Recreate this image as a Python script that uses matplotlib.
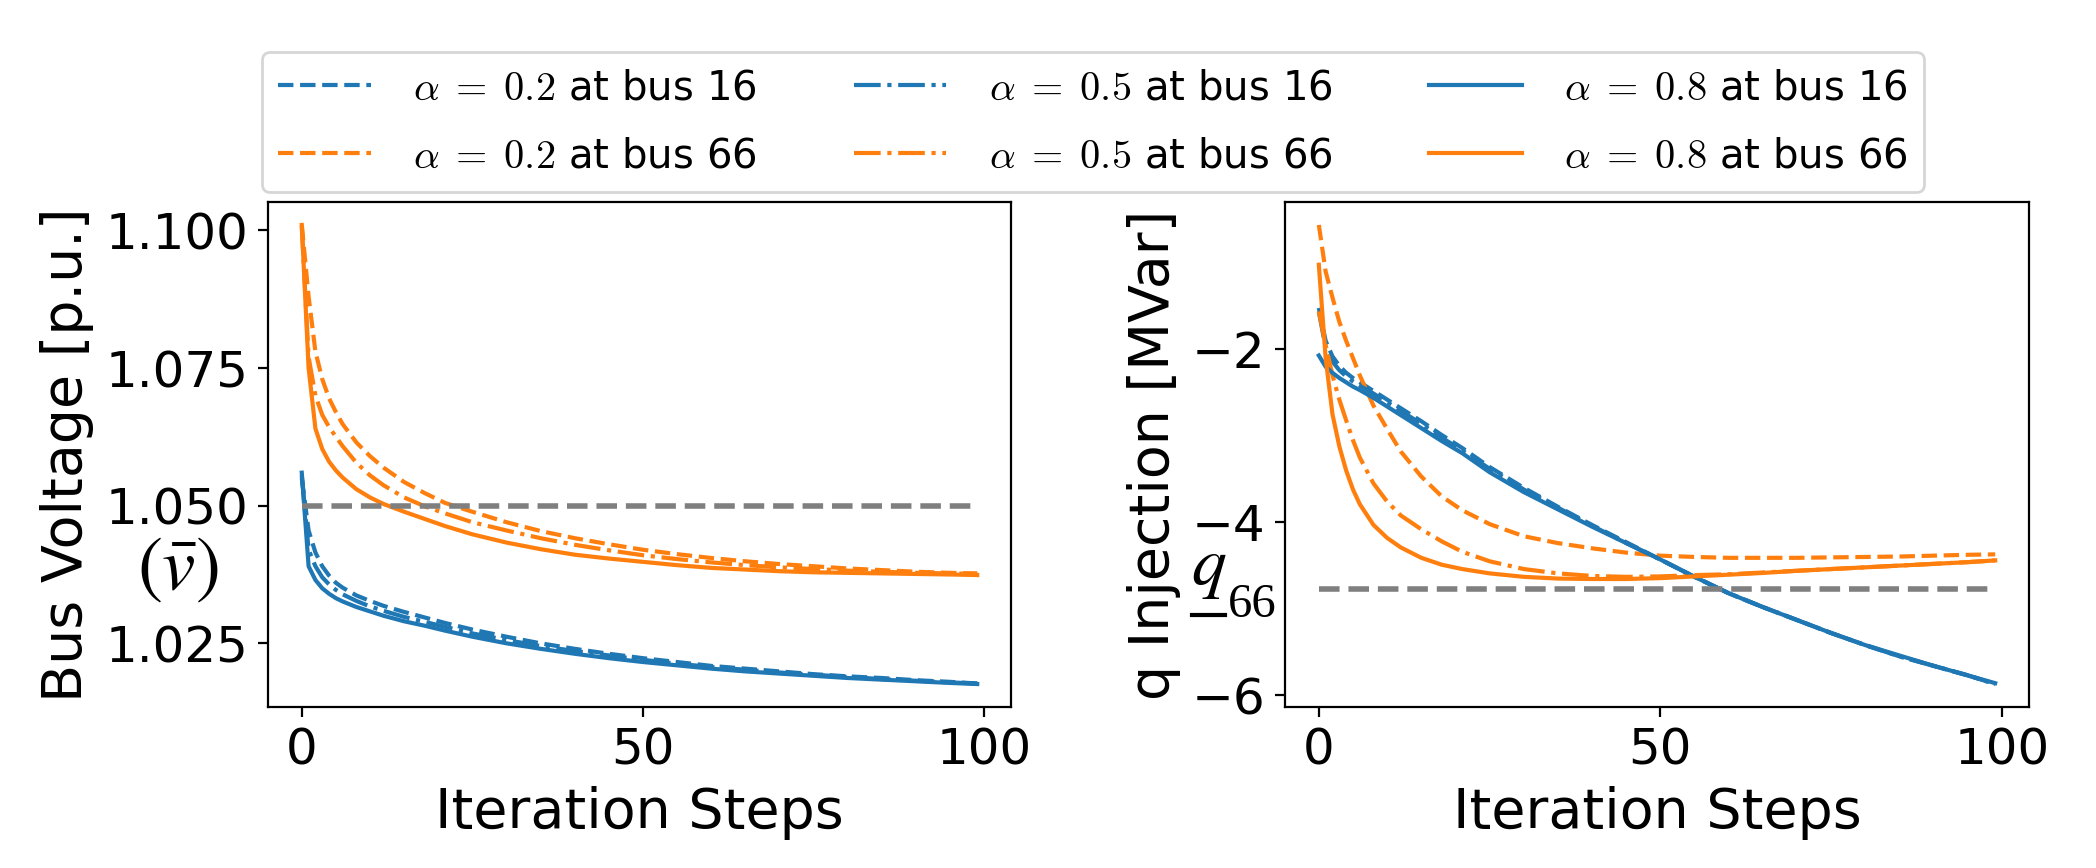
import matplotlib
matplotlib.use("Agg")
import matplotlib.pyplot as plt
from matplotlib.lines import Line2D

plt.rcParams['mathtext.fontset'] = 'cm'

steps = [0, 1, 2, 3, 4, 5, 6, 8, 10, 12, 15, 18, 21, 25, 30, 35, 40, 45, 50,
         55, 60, 65, 70, 75, 80, 85, 90, 95, 99]

# bus voltage [p.u.]
v16_a02 = [1.0550, 1.0455, 1.0415, 1.0390, 1.0373, 1.0360, 1.0351, 1.0337, 1.0327, 1.0318,
           1.0307, 1.0297, 1.0287, 1.0275, 1.0262, 1.0250, 1.0240, 1.0231, 1.0223,
           1.0216, 1.0209, 1.0204, 1.0199, 1.0194, 1.0190, 1.0187, 1.0183, 1.0180, 1.0177]
v16_a05 = [1.0555, 1.0420, 1.0390, 1.0370, 1.0357, 1.0347, 1.0339, 1.0327, 1.0317, 1.0309,
           1.0298, 1.0289, 1.0280, 1.0268, 1.0256, 1.0245, 1.0236, 1.0228, 1.0220,
           1.0213, 1.0207, 1.0202, 1.0197, 1.0193, 1.0189, 1.0185, 1.0182, 1.0179, 1.0177]
v16_a08 = [1.0560, 1.0390, 1.0365, 1.0350, 1.0340, 1.0332, 1.0326, 1.0316, 1.0308, 1.0300,
           1.0290, 1.0282, 1.0273, 1.0262, 1.0250, 1.0240, 1.0231, 1.0223, 1.0216,
           1.0210, 1.0204, 1.0199, 1.0195, 1.0191, 1.0187, 1.0184, 1.0181, 1.0178, 1.0176]
v66_a02 = [1.1010, 1.0880, 1.0780, 1.0730, 1.0695, 1.0670, 1.0648, 1.0615, 1.0590, 1.0569,
           1.0543, 1.0523, 1.0505, 1.0489, 1.0470, 1.0454, 1.0441, 1.0430, 1.0420,
           1.0412, 1.0405, 1.0399, 1.0394, 1.0390, 1.0386, 1.0383, 1.0380, 1.0378, 1.0377]
v66_a05 = [1.1008, 1.0770, 1.0700, 1.0665, 1.0643, 1.0625, 1.0608, 1.0578, 1.0555, 1.0537,
           1.0515, 1.0499, 1.0486, 1.0470, 1.0455, 1.0441, 1.0429, 1.0419, 1.0410,
           1.0403, 1.0397, 1.0392, 1.0388, 1.0385, 1.0382, 1.0380, 1.0378, 1.0377, 1.0376]
v66_a08 = [1.1010, 1.0750, 1.0640, 1.0603, 1.0580, 1.0564, 1.0551, 1.0530, 1.0515, 1.0503,
           1.0489, 1.0476, 1.0463, 1.0448, 1.0433, 1.0421, 1.0411, 1.0404, 1.0398,
           1.0392, 1.0387, 1.0384, 1.0381, 1.0379, 1.0378, 1.0377, 1.0376, 1.0375, 1.0374]
v_limit = 1.05

# q injection [MVar]
q16_a02 = [-1.52, -1.90, -2.08, -2.19, -2.27, -2.33, -2.38, -2.48, -2.58, -2.68,
           -2.83, -2.99, -3.14, -3.36, -3.60, -3.82, -4.03, -4.23, -4.43,
           -4.63, -4.82, -4.98, -5.13, -5.28, -5.42, -5.55, -5.66, -5.77, -5.87]
q16_a05 = [-1.56, -1.98, -2.14, -2.24, -2.31, -2.37, -2.42, -2.51, -2.61, -2.71,
           -2.86, -3.02, -3.17, -3.38, -3.62, -3.83, -4.04, -4.24, -4.43,
           -4.63, -4.82, -4.98, -5.13, -5.28, -5.42, -5.55, -5.66, -5.77, -5.87]
q16_a08 = [-2.07, -2.20, -2.27, -2.33, -2.38, -2.43, -2.47, -2.56, -2.66, -2.76,
           -2.91, -3.06, -3.20, -3.42, -3.65, -3.85, -4.05, -4.24, -4.43,
           -4.63, -4.82, -4.98, -5.13, -5.28, -5.42, -5.54, -5.66, -5.77, -5.86]
q66_a02 = [-0.56, -1.10, -1.40, -1.68, -1.90, -2.10, -2.30, -2.65, -2.92, -3.18,
           -3.47, -3.70, -3.86, -4.02, -4.16, -4.24, -4.30, -4.35, -4.385,
           -4.40, -4.41, -4.41, -4.41, -4.405, -4.40, -4.395, -4.385, -4.375, -4.37]
q66_a05 = [-1.56, -1.95, -2.30, -2.58, -2.82, -3.05, -3.25, -3.55, -3.76, -3.92,
           -4.08, -4.22, -4.34, -4.45, -4.54, -4.59, -4.62, -4.63, -4.625,
           -4.61, -4.60, -4.58, -4.56, -4.54, -4.52, -4.50, -4.48, -4.46, -4.44]
q66_a08 = [-1.02, -2.10, -2.75, -3.12, -3.40, -3.62, -3.79, -4.03, -4.18, -4.29,
           -4.41, -4.49, -4.54, -4.59, -4.63, -4.65, -4.655, -4.655, -4.645,
           -4.625, -4.605, -4.585, -4.56, -4.54, -4.52, -4.50, -4.48, -4.46, -4.44]
q_limit = -4.767

W, H = 2096, 868
fig = plt.figure(figsize=(W / 200, H / 200), dpi=200)
ax1 = fig.add_axes([268 / W, 1 - 707 / H, 743 / W, 505 / H])
ax2 = fig.add_axes([1285 / W, 1 - 707 / H, 744 / W, 505 / H])

blue, orange = 'tab:blue', 'tab:orange'

ax1.plot(steps, v16_a02, color=blue, ls='--', label=r'$\alpha\;=\;0.2$ at bus 16')
ax1.plot(steps, v66_a02, color=orange, ls='--', label=r'$\alpha\;=\;0.2$ at bus 66')
ax1.plot(steps, v16_a05, color=blue, ls='-.', label=r'$\alpha\;=\;0.5$ at bus 16')
ax1.plot(steps, v66_a05, color=orange, ls='-.', label=r'$\alpha\;=\;0.5$ at bus 66')
ax1.plot(steps, v16_a08, color=blue, ls='-', label=r'$\alpha\;=\;0.8$ at bus 16')
ax1.plot(steps, v66_a08, color=orange, ls='-', label=r'$\alpha\;=\;0.8$ at bus 66')
ax1.plot([steps[0], steps[-1]], [v_limit, v_limit], color='tab:gray', ls='--', lw=2)

ax2.plot(steps, q16_a02, color=blue, ls='--')
ax2.plot(steps, q66_a02, color=orange, ls='--')
ax2.plot(steps, q16_a05, color=blue, ls='-.')
ax2.plot(steps, q66_a05, color=orange, ls='-.')
ax2.plot(steps, q16_a08, color=blue, ls='-')
ax2.plot(steps, q66_a08, color=orange, ls='-')
ax2.plot([steps[0], steps[-1]], [q_limit, q_limit], color='tab:gray', ls='--', lw=2)

ax1.set_yticks([1.025, 1.050, 1.075, 1.100])
ax2.set_yticks([-6, -4, -2])
for ax in (ax1, ax2):
    ax.set_xticks([0, 50, 100])
    ax.tick_params(labelsize=18)
    ax.set_xlabel('Iteration Steps', fontsize=20)
ax1.set_ylabel('Bus Voltage [p.u.]', fontsize=20)
ax2.set_ylabel('q Injection [MVar]', fontsize=20)

# annotations
fig.text(178 / W, 1 - 568 / H, r'$(\bar{v})$', fontsize=27, ha='center', va='center',
         math_fontfamily='stix')
fig.text(1209 / W, 1 - 585 / H, r'$q$', fontsize=25, ha='center', va='baseline',
         math_fontfamily='stix')
fig.text(1228 / W, 1 - 617 / H, '66', fontsize=17.5, ha='left', va='baseline',
         family='Liberation Serif')
fig.add_artist(Line2D([1192 / W, 1225 / W], [1 - 615 / H, 1 - 615 / H],
                      transform=fig.transFigure, color='black', lw=1.5))

fig.legend(*ax1.get_legend_handles_labels(), loc='upper center', ncol=3,
           bbox_to_anchor=(1093 / W, 1 - 32 / H), fontsize=14.5,
           handlelength=2.3, columnspacing=2.4, handletextpad=1.05, labelspacing=0.69)

fig.savefig('out.png', dpi=200)
